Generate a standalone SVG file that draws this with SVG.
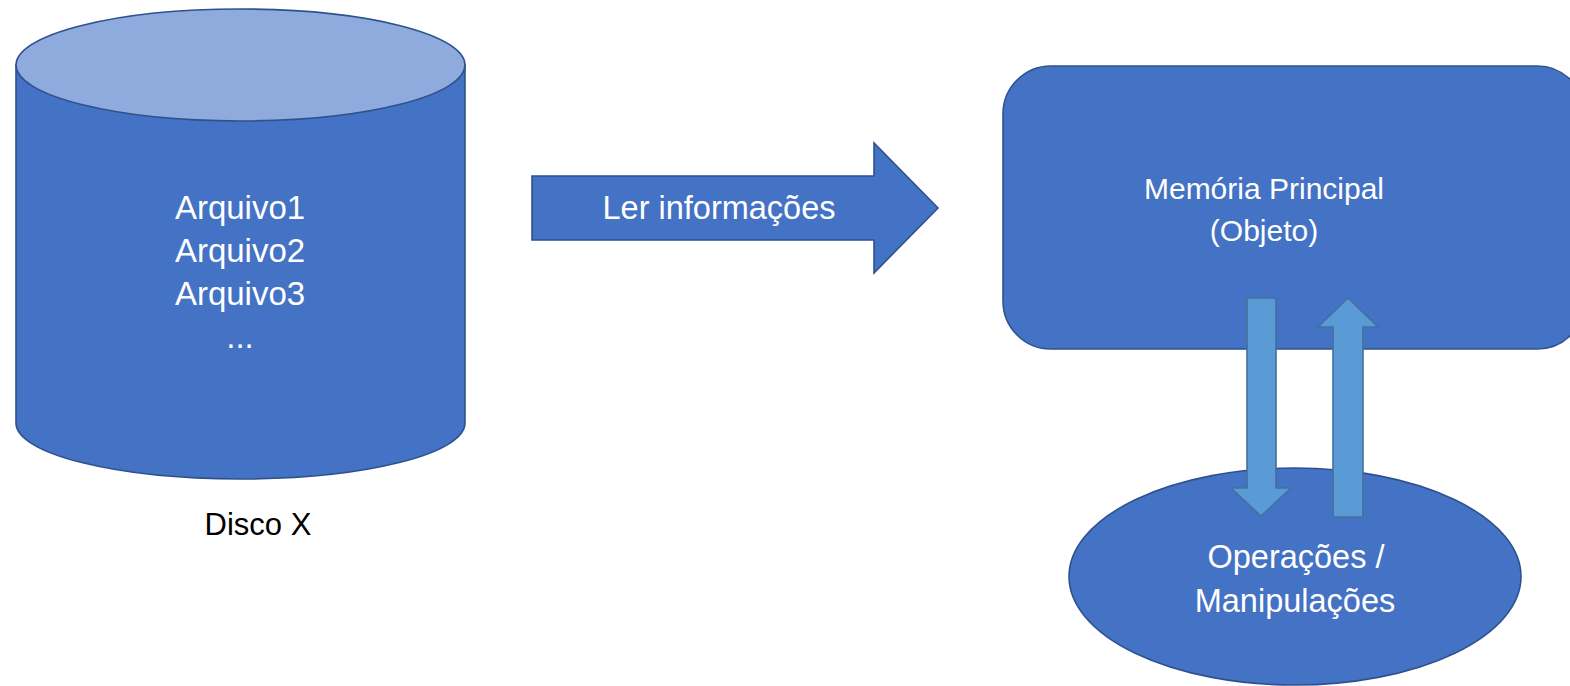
<svg xmlns="http://www.w3.org/2000/svg" width="1570" height="686" viewBox="0 0 1570 686">
  <style>
    .shape { fill: #4472C4; stroke: #2F528F; stroke-width: 1.6; }
    .lid { fill: #8FAADC; stroke: #2F528F; stroke-width: 1.6; }
    .small-arrow { fill: #5B9BD5; stroke: #41719C; stroke-width: 1.6; }
    .label { font-family: "Liberation Sans", Arial, sans-serif; font-size: 31px; text-anchor: middle; }
    .s30 { font-size: 30px; }
    .s32 { font-size: 32.5px; }
    .s33 { font-size: 33px; }
    .white { fill: #FFFFFF; }
    .dark { fill: #000000; }
  </style>
  <rect x="0" y="0" width="1570" height="686" fill="#FFFFFF"/>

  <!-- Disk cylinder -->
  <g id="disco">
    <path class="shape" d="M16,65 L16,423 A224.5,56 0 0 0 465,423 L465,65 Z"/>
    <ellipse class="lid" cx="240.5" cy="65" rx="224.5" ry="56"/>
    <text class="label s33 white" x="240" y="219">Arquivo1</text>
    <text class="label s33 white" x="240" y="262">Arquivo2</text>
    <text class="label s33 white" x="240" y="305">Arquivo3</text>
    <text class="label s33 white" x="240" y="348">...</text>
  </g>
  <g id="disco-label">
    <text class="label dark" x="258" y="535">Disco X</text>
  </g>

  <!-- Main memory block -->
  <g id="memoria">
    <rect class="shape" x="1003" y="66" width="582" height="283" rx="48" ry="48"/>
    <text class="label s30 white" x="1264" y="199">Memória Principal</text>
    <text class="label s30 white" x="1264" y="241">(Objeto)</text>
  </g>

  <!-- Operations ellipse -->
  <g id="operacoes">
    <ellipse class="shape" cx="1295" cy="576.5" rx="226" ry="108.5"/>
    <text class="label s32 white" x="1296" y="568">Operações /</text>
    <text class="label s32 white" x="1295" y="612">Manipulações</text>
  </g>

  <!-- Connectors -->
  <g id="connectors">
    <g id="ler-informacoes">
      <path class="shape" d="M532,176 L874,176 L874,143 L938,208 L874,273 L874,240 L532,240 Z"/>
      <text class="label s32 white" x="719" y="219">Ler informações</text>
    </g>
    <path id="seta-descida" class="small-arrow" d="M1247,298 L1276,298 L1276,488 L1291,488 L1261,516 L1231,488 L1247,488 Z"/>
    <path id="seta-subida" class="small-arrow" d="M1333,517 L1363,517 L1363,327 L1378,327 L1348,298 L1318,327 L1333,327 Z"/>
  </g>
</svg>
